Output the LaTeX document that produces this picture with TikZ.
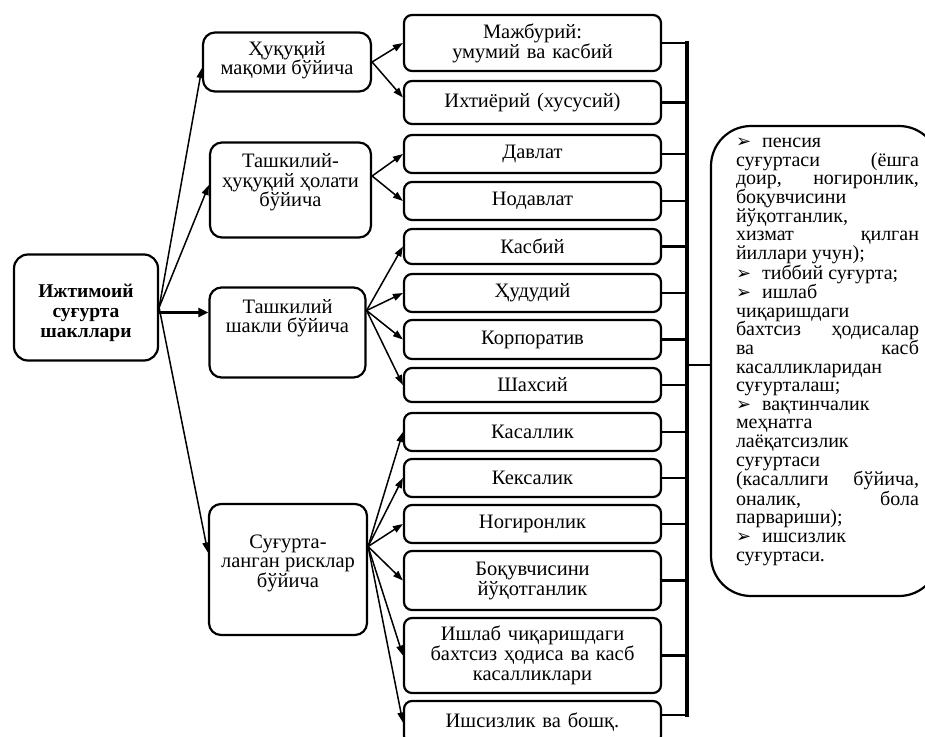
\documentclass[tikz,border=0pt]{standalone}
\usepackage{fontspec}
\setmainfont{Liberation Serif}
\newfontfamily\dingfont{DejaVu Sans}
\usetikzlibrary{arrows.meta,positioning}
\tikzset{
    root/.style={draw, line width=2.2pt, rounded corners=14pt, inner sep=0pt,
        font=\fontsize{19.5}{20}\selectfont\bfseries},
    group/.style={draw, line width=2.2pt, rounded corners=12pt, inner sep=0pt,
        font=\fontsize{20.5}{19.5}\selectfont},
    kind/.style={draw, line width=2.2pt, rounded corners=8pt, inner sep=0pt,
        minimum width=257pt, text width=252pt, align=center,
        font=\fontsize{20.5}{20}\selectfont},
    note/.style={draw, line width=2.2pt, rounded corners=40pt, inner sep=0pt,
        minimum width=228pt, minimum height=470pt,
        font=\fontsize{20}{18.6}\selectfont},
    link/.style={line width=1.5pt, -{Triangle[length=10pt,width=7pt]}},
    mainlink/.style={line width=3.5pt, -{Triangle[length=10pt,width=9pt]}},
    tie/.style={line width=2.5pt},
    spine/.style={line width=4pt, line cap=rect}
}
\newcommand{\lift}[3]{\raisebox{#1}[0pt][0pt]{\parbox{#2}{\centering #3}}}
\newcommand{\bul}{{\dingfont\fontsize{18}{18}\selectfont ➢}\hspace{11pt}}

\begin{document}
\begin{tikzpicture}[x=1pt, y=-1pt]
    \useasboundingbox (0,0) rectangle (925,736);

    \node[root, minimum width=144pt, minimum height=106pt] (forms) at (86,307.5)
        {\lift{-10.6pt}{130pt}{Ижтимоий\\суғурта\\шакллари}};

    \node[group, minimum width=168pt, minimum height=59pt] (legal) at (287,62)
        {\lift{-3.4pt}{160pt}{Ҳуқуқий\\мақоми бўйича}};
    \node[group, minimum width=161pt, minimum height=95pt] (orgstat) at (290.5,190)
        {\lift{2.6pt}{155pt}{Ташкилий-\\ҳуқуқий ҳолати\\бўйича}};
    \node[group, minimum width=156pt, minimum height=90pt] (orgform) at (287.5,332.5)
        {\lift{9pt}{150pt}{Ташкилий\\шакли бўйича}};
    \node[group, minimum width=158pt, minimum height=131pt] (risks) at (288,569.5)
        {\lift{1pt}{152pt}{Суғурта-\\ланган рисклар\\бўйича}};

    \draw[link] (forms.east) -- ([yshift=-6pt]legal.west);
    \draw[link] (forms.east) -- ([yshift=5pt]orgstat.west);
    \draw[mainlink] ([yshift=-5pt]forms.east) -- ([yshift=20pt]orgform.west);
    \draw[link] (forms.east) -- ([yshift=17pt]risks.west);

    \node[kind, minimum height=56pt] (mand) at (532.5,43) {Мажбурий:\\умумий ва касбий};
    \node[kind, minimum height=43pt] (volun) at (532.5,102.5) {Ихтиёрий (хусусий)};
    \node[kind, minimum height=38pt] (gov) at (532.5,154) {Давлат};
    \node[kind, minimum height=38pt] (nongov) at (532.5,201) {Нодавлат};
    \node[kind, minimum height=35pt] (prof) at (532.5,246.5) {Касбий};
    \node[kind, minimum height=38pt] (terr) at (532.5,293) {Ҳудудий};
    \node[kind, minimum height=39pt] (corp) at (532.5,339.5) {Корпоратив};
    \node[kind, minimum height=34pt] (pers) at (532.5,385) {Шахсий};
    \node[kind, minimum height=38pt] (sick) at (532.5,432) {Касаллик};
    \node[kind, minimum height=38pt] (old) at (532.5,478) {Кексалик};
    \node[kind, minimum height=38pt] (disab) at (532.5,524) {Ногиронлик};
    \node[kind, minimum height=59pt] (surv) at (532.5,580.5) {Боқувчисини\\йўқотганлик};
    \node[kind, minimum height=75pt] (accid) at (532.5,655.5)
        {Ишлаб чиқаришдаги\\бахтсиз ҳодиса ва касб\\касалликлари};
    \node[kind, minimum height=43pt] (unemp) at (532.5,722.5) {Ишсизлик ва бошқ.};

    \path[link] (legal.east) edge (mand.west)
                             edge ([yshift=5pt]volun.west);
    \path[link] ([yshift=14pt]orgstat.east) edge (gov.west)
                                            edge (nongov.west);
    \path[link] ([yshift=22pt]orgform.east) edge (prof.west)
                                            edge (terr.west)
                                            edge (corp.west)
                                            edge (pers.west);
    \path[link] ([yshift=23pt]risks.east) edge (sick.west)
                                          edge (old.west)
                                          edge (disab.west)
                                          edge (surv.west)
                                          edge (accid.west)
                                          edge (unemp.west);

    \coordinate (spine) at (687,0);
    \draw[tie] (mand.east) -- (mand.east -| spine)
               (volun.east) -- (volun.east -| spine)
               (gov.east) -- (gov.east -| spine)
               (nongov.east) -- (nongov.east -| spine)
               (prof.east) -- (prof.east -| spine)
               (terr.east) -- (terr.east -| spine)
               (corp.east) -- (corp.east -| spine)
               (pers.east) -- (pers.east -| spine)
               (sick.east) -- (sick.east -| spine)
               (old.east) -- (old.east -| spine)
               (disab.east) -- (disab.east -| spine)
               (surv.east) -- (surv.east -| spine)
               (accid.east) -- (accid.east -| spine)
               ([yshift=7.5pt]unemp.east) -- ([yshift=7.5pt]unemp.east -| spine);
    \draw[spine] (mand.east -| spine) -- ([yshift=7.5pt]unemp.east -| spine);

    \node[note] (kinds) at (825,361)
        {\raisebox{4pt}[0pt][0pt]{\hspace*{25pt}\parbox{183pt}{\raggedright
        \bul пенсия\\
        суғуртаси\hfill(ёшга\\
        доир,\hfill ногиронлик,\\
        боқувчисини\\
        йўқотганлик,\\
        хизмат\hfill қилган\\
        йиллари учун);\\
        \bul тиббий суғурта;\\
        \bul ишлаб\\
        чиқаришдаги\\
        бахтсиз\hfill ҳодисалар\\
        ва\hfill касб\\
        касалликларидан\\
        суғурталаш;\\
        \bul вақтинчалик\\
        меҳнатга\\
        лаёқатсизлик\\
        суғуртаси\\
        (касаллиги\hfill бўйича,\\
        оналик,\hfill бола\\
        парвариши);\\
        \bul ишсизлик\\
        суғуртаси.}\hspace*{20pt}}};
    \draw[line width=1.5pt] ([yshift=-4pt]kinds.west) -- ([yshift=-4pt]kinds.west -| spine);
\end{tikzpicture}
\end{document}
